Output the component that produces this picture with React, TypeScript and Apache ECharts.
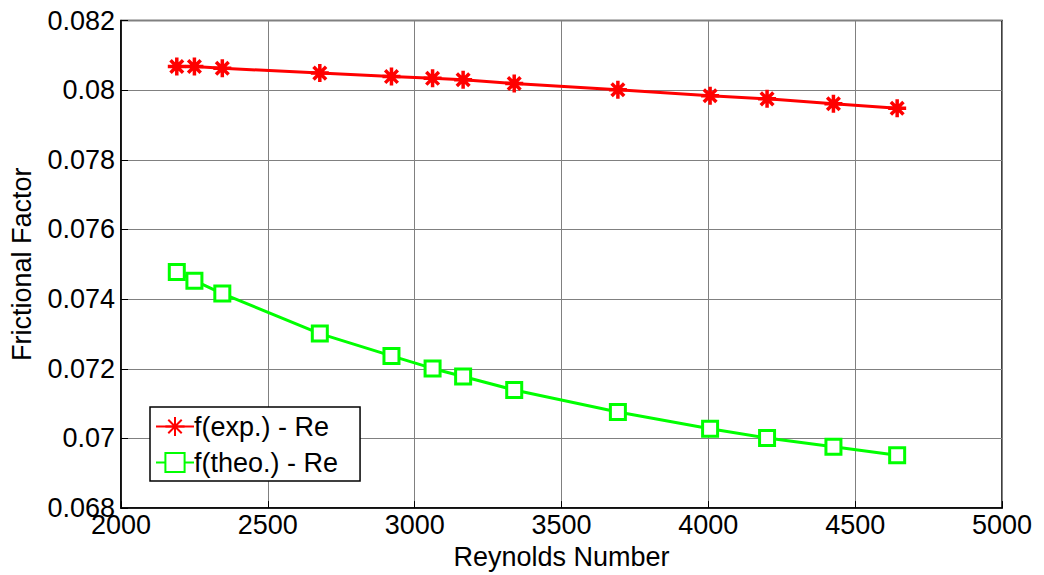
import React, { useEffect, useRef } from "react";
import * as echarts from "echarts";

const reynolds = [2190, 2250, 2345, 2677, 2921, 3061, 3165, 3339, 3692, 4006, 4200, 4426, 4643];
const fExp = [0.08068, 0.08068, 0.08063, 0.08049, 0.08039, 0.08034, 0.0803, 0.08019, 0.08001, 0.07984, 0.07975, 0.07961, 0.07948];
const fTheo = [0.07478, 0.07453, 0.07416, 0.07301, 0.07237, 0.07201, 0.07178, 0.07139, 0.07076, 0.07028, 0.07001, 0.06976, 0.06952];
const seriesNames = ["f(exp.) - Re", "f(theo.) - Re"];
const xTitle = "Reynolds Number";
const yTitle = "Frictional Factor";

const asterisk =
  "path://M0,-10 L0,10 M-10,0 L10,0 M-7,-7 L7,7 M-7,7 L7,-7";

export default function App() {
  const ref = useRef<HTMLDivElement>(null);
  useEffect(() => {
    if (!ref.current) return;
    const chart = echarts.init(ref.current, undefined, { renderer: "svg" });
    const font = "Liberation Sans, Arial, sans-serif";
    chart.setOption({
      animation: false,
      backgroundColor: "#fff",
      textStyle: { fontFamily: font },
      grid: { left: 121, right: 42, top: 20.5, bottom: 64.5, show: true, borderColor: "#000", borderWidth: 1.5 },
      legend: {
        left: 150,
        top: 407,
        orient: "vertical",
        itemGap: 9,
        itemWidth: 38,
        itemHeight: 24,
        padding: [6, 22, 5, 5],
        backgroundColor: "#fff",
        borderColor: "#000",
        borderWidth: 1.5,
        borderRadius: 0,
        textStyle: { fontSize: 27, color: "#000", fontFamily: font, padding: [0, 0, 0, -5] },
        data: seriesNames,
      },
      xAxis: {
        type: "value",
        min: 2000,
        max: 5000,
        interval: 500,
        name: xTitle,
        nameLocation: "middle",
        nameGap: 32,
        nameTextStyle: { fontSize: 27, color: "#000" },
        axisLine: { show: true, lineStyle: { color: "#000", width: 1.5 } },
        axisTick: { show: true, inside: true, length: 7, lineStyle: { color: "#000" } },
        axisLabel: { fontSize: 27, color: "#000", margin: 3, formatter: (v: number) => String(v) },
        splitLine: { show: true, lineStyle: { color: "#808080", width: 1 } },
      },
      yAxis: {
        type: "value",
        min: 0.068,
        max: 0.082,
        interval: 0.002,
        name: yTitle,
        nameLocation: "middle",
        nameGap: 86,
        nameTextStyle: { fontSize: 27, color: "#000" },
        axisLine: { show: true, lineStyle: { color: "#000", width: 1.5 } },
        axisTick: { show: true, inside: true, length: 7, lineStyle: { color: "#000" } },
        axisLabel: {
          fontSize: 27,
          color: "#000",
          margin: 6,
          formatter: (v: number) => String(parseFloat(v.toFixed(3))),
        },
        splitLine: { show: true, lineStyle: { color: "#808080", width: 1 } },
      },
      series: [
        {
          name: seriesNames[0],
          type: "line",
          data: reynolds.map((x, i) => [x, fExp[i]]),
          symbol: asterisk,
          symbolSize: 18,
          showAllSymbol: true,
          lineStyle: { color: "#ff0000", width: 3 },
          itemStyle: { color: "#ff0000", borderColor: "#ff0000", borderWidth: 3.5 },
        },
        {
          name: seriesNames[1],
          type: "line",
          data: reynolds.map((x, i) => [x, fTheo[i]]),
          symbol: "rect",
          symbolSize: 15,
          showAllSymbol: true,
          lineStyle: { color: "#00ff00", width: 3 },
          itemStyle: { color: "#ffffff", borderColor: "#00ff00", borderWidth: 3 },
        },
      ],
    });
    return () => chart.dispose();
  }, []);
  return <div ref={ref} style={{ width: 1044, height: 575, position: "absolute", left: 0, top: 0 }} />;
}
